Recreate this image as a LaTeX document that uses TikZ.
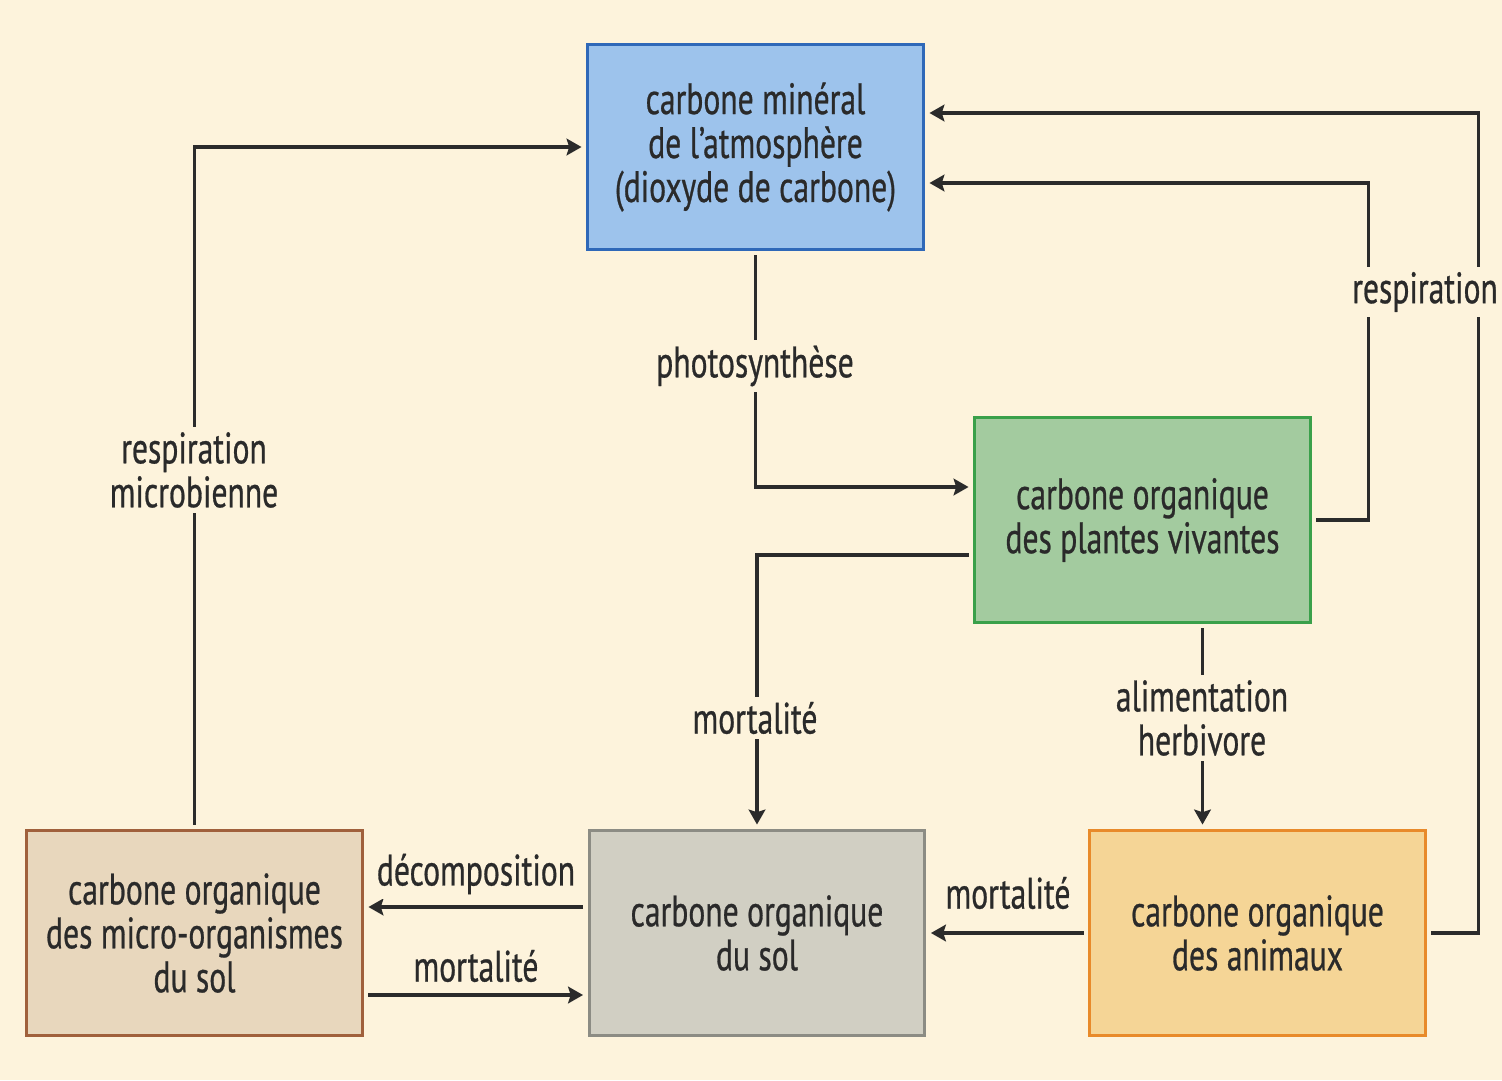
\documentclass[tikz,border=0pt]{standalone}
\usepackage{fontspec}
\setmainfont{PT Sans}[FakeStretch=0.72,FakeBold=0.6]
\usetikzlibrary{arrows.meta,calc}
\definecolor{bg}{HTML}{FDF3DC}
\definecolor{txt}{HTML}{2A2A2A}
\definecolor{lin}{HTML}{2B2B2B}
\definecolor{atmfill}{HTML}{9DC3EC}
\definecolor{atmdraw}{HTML}{2F68B8}
\definecolor{plafill}{HTML}{A3CB9F}
\definecolor{pladraw}{HTML}{3AA04A}
\definecolor{solfill}{HTML}{D1CFC3}
\definecolor{soldraw}{HTML}{8C8C84}
\definecolor{micfill}{HTML}{E8D7BD}
\definecolor{micdraw}{HTML}{A0603C}
\definecolor{anifill}{HTML}{F5D596}
\definecolor{anidraw}{HTML}{E88A2A}
\tikzset{
  boxnode/.style={rectangle, minimum width=6.72cm, minimum height=4.1cm,
    line width=1.7pt, outer sep=0.12cm, align=center, text=txt,
    font=\fontsize{25}{25}\selectfont},
  flow/.style={draw=lin, line width=2pt, -{Stealth[length=8.5pt,width=9.5pt,inset=1.5pt]}},
  lbl/.style={font=\fontsize{25}{25}\selectfont, text=txt, fill=bg, inner sep=3pt, align=center},
}
\begin{document}
\begin{tikzpicture}[x=0.02cm,y=-0.02cm]
\fill[bg] (0,0) rectangle (1502,1080);
\useasboundingbox (0,0) rectangle (1502,1080);

\node[boxnode, fill=atmfill, draw=atmdraw] (atm) at (755.5,147) {carbone minéral\\de l’atmosphère\\(dioxyde de carbone)};
\node[boxnode, fill=plafill, draw=pladraw] (plants) at (1142.5,520) {carbone organique\\des plantes vivantes};
\node[boxnode, fill=solfill, draw=soldraw] (soil) at (757,933) {carbone organique\\du sol};
\node[boxnode, fill=micfill, draw=micdraw] (micro) at (194.5,933) {carbone organique\\des micro-organismes\\du sol};
\node[boxnode, fill=anifill, draw=anidraw] (animals) at (1257.5,933) {carbone organique\\des animaux};

% connectors
\draw[flow] (micro.north) |- (atm.west);
\draw[flow] (atm.south) |- ($(plants.west)+(0,-33)$);
\draw[flow] (plants.east) -- ++(52,0) |- ($(atm.east)+(0,36)$);
\draw[flow] (animals.east) -- ++(47,0) |- ($(atm.east)+(0,-34)$);
\draw[flow] ($(plants.west)+(0,35)$) -| (soil.north);
\draw[flow] ($(plants.south)+(60,0)$) -- ($(animals.north)+(-55,0)$);
\draw[flow] (animals.west) -- (soil.east);
\draw[flow] ($(soil.west)+(0,-26)$) -- ($(micro.east)+(0,-26)$);
\draw[flow] ($(micro.east)+(0,62)$) -- ($(soil.west)+(0,62)$);

% labels
\node[lbl] (lrm) at (194,470) {respiration\\microbienne};
\node[lbl] (lph) at (755,366) {photosynthèse};
\node[lbl] (lre) at (1425,292) {respiration};
\node[lbl] (lmp) at (755,718) {mortalité};
\node[lbl] (lah) at (1202,718) {alimentation\\herbivore};
\node[lbl] (lma) at (1008,893) {mortalité};
\node[lbl] (lde) at (476,874) {décomposition};
\node[lbl] (lmm) at (476,966) {mortalité};
\end{tikzpicture}
\end{document}
